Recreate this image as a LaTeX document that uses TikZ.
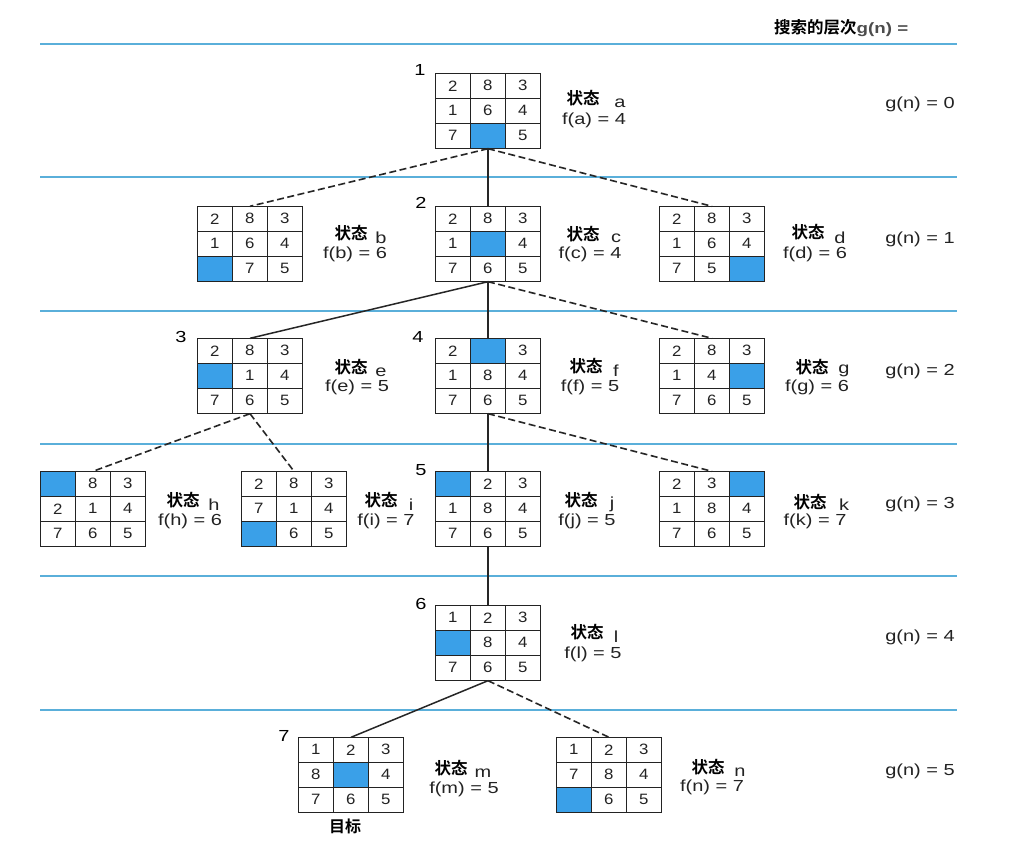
\documentclass[tikz,border=0pt]{standalone}
\usepackage{fontspec}
\setmainfont{Liberation Sans}
\newfontfamily\widefont{Liberation Sans}[FakeStretch=1.25]
\newfontfamily\digfont{Liberation Sans}[FakeStretch=1.12]
\newfontfamily\cjk{Noto Sans CJK SC Bold}
\usetikzlibrary{calc}
\definecolor{tileblue}{RGB}{58,160,232}
\definecolor{levelline}{RGB}{90,175,218}
\definecolor{gridcol}{RGB}{35,35,35}
\definecolor{txtcol}{RGB}{35,35,35}
\tikzset{
  gridbox/.style={minimum width=105pt,minimum height=75pt,inner sep=0pt,draw=none},
  tilenum/.style={inner sep=0pt,font=\digfont\fontsize{15}{17}\selectfont,text=txtcol},
  gridlines/.style={draw=gridcol,line width=1.5pt},
  levelrule/.style={draw=levelline,line width=1.4pt},
  solidedge/.style={draw=black!85,line width=1.5pt},
  dashedge/.style={draw=black!85,line width=1.6pt,dash pattern=on 7pt off 3.5pt},
  statelbl/.style={inner sep=0pt,font=\cjk\fontsize{16.5}{18}\selectfont},
  letterlbl/.style={inner sep=0pt,font=\widefont\fontsize{16}{18}\selectfont,text=txtcol},
  flbl/.style={inner sep=0pt,font=\widefont\fontsize{16}{18}\selectfont,text=txtcol},
  glbl/.style={inner sep=0pt,font=\widefont\fontsize{16}{18}\selectfont,text=txtcol},
  numlbl/.style={inner sep=0pt,font=\widefont\fontsize{16}{18}\selectfont,text=black},
}
\newcommand\puz[4]{%
  \node[gridbox] (#1) at (#2,#3) {};
  \begin{scope}[shift={(#1.north west)}]
  \foreach \v [count=\i from 0] in {#4} {%
    \pgfmathtruncatemacro\rr{\i/3}%
    \pgfmathtruncatemacro\cc{mod(\i,3)}%
    \ifnum\v=0\relax
      \fill[tileblue] (\cc*35,\rr*25) rectangle +(35,25);
    \else
      \node[tilenum] at (\cc*35+17.5,\rr*25+12.5) {\v};
    \fi
  }
  \draw[gridlines] (0,0) rectangle (105,75) (35,0)--(35,75) (70,0)--(70,75) (0,25)--(105,25) (0,50)--(105,50);
  \end{scope}}
\newcommand\slbl[8]{%
  \node[statelbl] (#1s) at (#2,#3) {状态};
  \node[letterlbl] (#1l) at (#4,#5) {#1};
  \node[flbl] (#1f) at (#6,#7) {f(#1) = #8};}
\begin{document}
\begin{tikzpicture}[x=1pt,y=-1pt]
\useasboundingbox[fill=white] (0,0) rectangle (1013,842);
% level rules
\foreach \yy/\nm in {44/r0,177/r1,311/r2,444/r3,576/r4,710/r5}
  \draw[levelrule] (40,\yy) coordinate (\nm a) -- (957,\yy) coordinate (\nm b);
% title
\node[anchor=west,inner sep=0pt] (title) at (774,28) {{\cjk\fontsize{16.5}{18}\selectfont 搜索的层次}{\widefont\bfseries\fontsize{15}{17}\selectfont\color{black!70}g(n) =}};
% puzzles
\puz{a}{488}{111}{2,8,3,1,6,4,7,0,5}
\puz{b}{250}{244}{2,8,3,1,6,4,0,7,5}
\puz{c}{488}{244}{2,8,3,1,0,4,7,6,5}
\puz{d}{712}{244}{2,8,3,1,6,4,7,5,0}
\puz{e}{250}{376}{2,8,3,0,1,4,7,6,5}
\puz{f}{488}{376}{2,0,3,1,8,4,7,6,5}
\puz{g}{712}{376}{2,8,3,1,4,0,7,6,5}
\puz{h}{93}{509}{0,8,3,2,1,4,7,6,5}
\puz{i}{294}{509}{2,8,3,7,1,4,0,6,5}
\puz{j}{488}{509}{0,2,3,1,8,4,7,6,5}
\puz{k}{712}{509}{2,3,0,1,8,4,7,6,5}
\puz{l}{488}{643}{1,2,3,0,8,4,7,6,5}
\puz{m}{351}{775}{1,2,3,8,0,4,7,6,5}
\puz{n}{609}{775}{1,2,3,7,8,4,0,6,5}
% order numbers
\node[numlbl] (n1) at (420,70) {1};
\node[numlbl] (n2) at (421,203) {2};
\node[numlbl] (n3) at (181,337) {3};
\node[numlbl] (n4) at (418,337) {4};
\node[numlbl] (n5) at (421,470) {5};
\node[numlbl] (n6) at (421,604) {6};
\node[numlbl] (n7) at (284,736) {7};
% connectors
\draw[dashedge] (a.south) -- (b.north);
\draw[solidedge] (a.south) -- (c.north);
\draw[dashedge] (a.south) -- (d.north);
\draw[solidedge] (c.south) -- (e.north);
\draw[solidedge] (c.south) -- (f.north);
\draw[dashedge] (c.south) -- (g.north);
\draw[dashedge] (e.south) -- (h.north);
\draw[dashedge] (e.south) -- (i.north);
\draw[solidedge] (f.south) -- (j.north);
\draw[dashedge] (f.south) -- (k.north);
\draw[solidedge] (j.south) -- (l.north);
\draw[solidedge] (l.south) -- (m.north);
\draw[dashedge] (l.south) -- (n.north);
% state labels
\slbl{a}{583}{98}{620}{103}{594}{120}{4}
\slbl{b}{351}{233}{381}{238}{355}{254}{6}
\slbl{c}{583}{234}{616}{238}{590}{254}{4}
\slbl{d}{808}{232}{840}{238}{815}{254}{6}
\slbl{e}{351}{367}{381}{372}{357}{387}{5}
\slbl{f}{586}{366}{616}{371}{590}{387}{5}
\slbl{g}{812}{367}{844}{371}{817}{387}{6}
\slbl{h}{183}{500}{214}{505}{190}{521}{6}
\slbl{i}{381}{500}{411}{505}{386}{521}{7}
\slbl{j}{581}{500}{612}{504}{587}{521}{5}
\slbl{k}{810}{502}{844}{505}{815}{521}{7}
\slbl{l}{587}{632}{616}{637}{593}{654}{5}
\slbl{m}{451}{768}{483}{773}{464}{789}{5}
\slbl{n}{708}{767}{740}{772}{712}{787}{7}
% level labels
\node[glbl] (g0) at (920,104) {g(n) = 0};
\node[glbl] (g1) at (920,239) {g(n) = 1};
\node[glbl] (g2) at (920,371) {g(n) = 2};
\node[glbl] (g3) at (920,504) {g(n) = 3};
\node[glbl] (g4) at (920,637) {g(n) = 4};
\node[glbl] (g5) at (920,771) {g(n) = 5};
% goal
\node[inner sep=0pt,font=\cjk\fontsize{16}{18}\selectfont] (goal) at (345,826) {目标};
\end{tikzpicture}
\end{document}
